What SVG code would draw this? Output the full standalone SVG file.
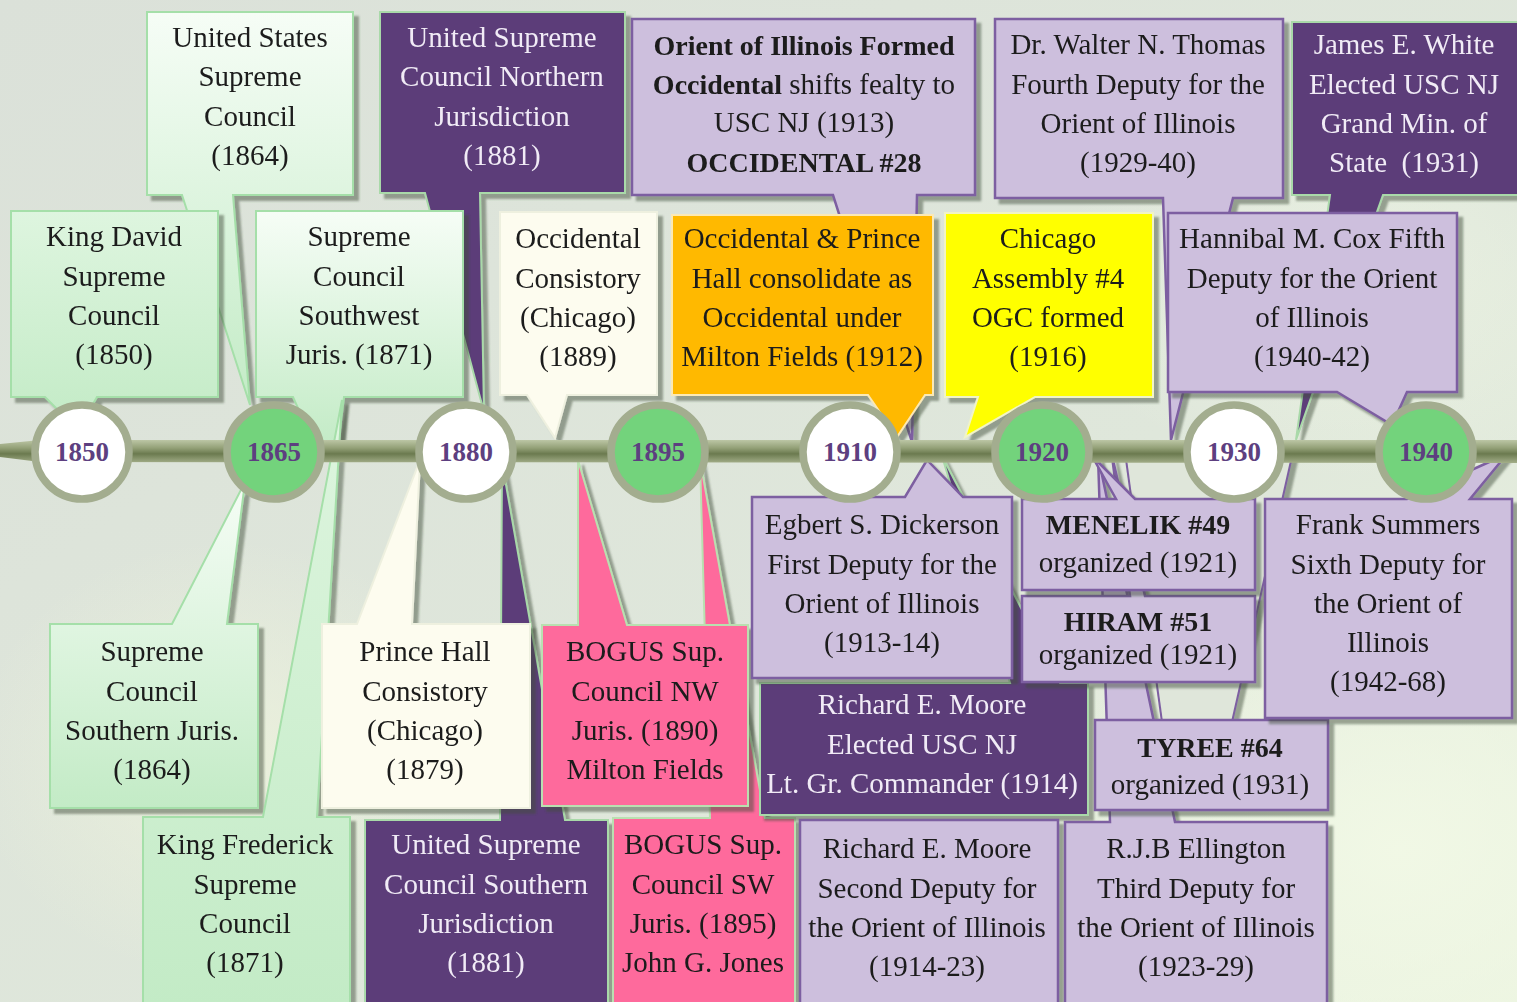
<svg xmlns="http://www.w3.org/2000/svg" width="1517" height="1002" viewBox="0 0 1517 1002">
<defs>
<linearGradient id="bg" x1="0" y1="0" x2="1" y2="1">
<stop offset="0" stop-color="#dbe1d9"/><stop offset="0.6" stop-color="#dfe7db"/><stop offset="1" stop-color="#eaf3df"/>
</linearGradient>
<radialGradient id="spot1" cx="0.5" cy="0.5" r="0.5"><stop offset="0" stop-color="#f2f9e6" stop-opacity="0.9"/><stop offset="1" stop-color="#f2f9e6" stop-opacity="0"/></radialGradient>
<radialGradient id="spot2" cx="0.5" cy="0.5" r="0.5"><stop offset="0" stop-color="#eef3dc" stop-opacity="0.8"/><stop offset="1" stop-color="#eef3dc" stop-opacity="0"/></radialGradient>
<linearGradient id="gG" x1="0" y1="0" x2="0" y2="1"><stop offset="0" stop-color="#f6fdf6"/><stop offset="1" stop-color="#c3ebc6"/></linearGradient>
<linearGradient id="gF" x1="0" y1="0" x2="0" y2="1"><stop offset="0" stop-color="#def5df"/><stop offset="1" stop-color="#c3ebc6"/></linearGradient>
<linearGradient id="bar" x1="0" y1="0" x2="0" y2="1"><stop offset="0" stop-color="#bcc6a5"/><stop offset="0.35" stop-color="#93a077"/><stop offset="0.6" stop-color="#6b7a4f"/><stop offset="1" stop-color="#a3ae89"/></linearGradient>
<filter id="sh" x="-10%" y="-10%" width="125%" height="125%"><feDropShadow dx="5" dy="5" stdDeviation="1.2" flood-color="#3e4d38" flood-opacity="0.48"/></filter>
<style>
.cg{filter:url(#sh)}
.lg{fill:url(#gG);stroke:#a5dfa9;stroke-width:2}
.lf{fill:url(#gF);stroke:#a5dfa9;stroke-width:2}
.lp{fill:#cdbfdd;stroke:#7d5ea1;stroke-width:2.5}
.dp{fill:#5b3e79;stroke:#a9d9a9;stroke-width:2}
.pk{fill:#fe6a9c;stroke:#b9e0b0;stroke-width:2}
.cr{fill:#fdfcef;stroke:#eef0df;stroke-width:2}
.or{fill:#ffb900;stroke:#fbe9b5;stroke-width:2}
.ye{fill:#ffff00;stroke:#f1f4c6;stroke-width:2}
.pale{fill:#dfe6da;stroke:none}
.edge{fill:none;stroke:#7d5ea1;stroke-width:2}
.t{font-family:"Liberation Serif","Times New Roman",serif;font-size:29px;text-anchor:middle;fill:#1b1b1b}
.w{fill:#f1ebf6}
.b{font-weight:bold;font-size:28px}
.yc{stroke:#a3ad8f;stroke-width:7.5}
.yw{fill:#ffffff}
.yg{fill:#73d37c}
.yr{font-family:"Liberation Serif","Times New Roman",serif;font-size:27px;font-weight:bold;fill:#5d3f80;text-anchor:middle}
</style>
</defs>
<rect width="1517" height="1002" fill="url(#bg)"/>
<ellipse cx="1400" cy="850" rx="420" ry="330" fill="url(#spot1)"/>
<ellipse cx="230" cy="760" rx="260" ry="220" fill="url(#spot2)"/>
<ellipse cx="1350" cy="280" rx="300" ry="200" fill="url(#spot1)" opacity="0.6"/>

<g id="n-us-sc" class="cg"><path class="lg" d="M147 12 H353 V195 H233 L250 405 L182 195 H147 Z"/>
<text class="t"><tspan x="250" y="47">United States</tspan><tspan x="250" y="86">Supreme</tspan><tspan x="250" y="126">Council</tspan><tspan x="250" y="165">(1864)</tspan></text></g>

<g id="n-usc-nj" class="cg"><path class="dp" d="M380 12 H625 V193 H480 L484 412 L425 193 H380 Z"/>
<text class="t w"><tspan x="502" y="47">United Supreme</tspan><tspan x="502" y="86">Council Northern</tspan><tspan x="502" y="126">Jurisdiction</tspan><tspan x="502" y="165">(1881)</tspan></text></g>

<g id="n-orient" class="cg"><path class="lp" d="M632 19 H975 V195 H917 L912 442 L833 195 H632 Z"/>
<text class="t"><tspan x="804" y="55" class="b">Orient of Illinois Formed</tspan><tspan x="804" y="94"><tspan class="b">Occidental</tspan> shifts fealty to</tspan><tspan x="804" y="132">USC NJ (1913)</tspan><tspan x="804" y="172" class="b">OCCIDENTAL #28</tspan></text></g>

<g id="n-thomas" class="cg"><path class="lp" d="M995 19 H1283 V198 H1233 L1171 440 L1163 198 H995 Z"/>
<text class="t"><tspan x="1138" y="54">Dr. Walter N. Thomas</tspan><tspan x="1138" y="94">Fourth Deputy for the</tspan><tspan x="1138" y="133">Orient of Illinois</tspan><tspan x="1138" y="172">(1929-40)</tspan></text></g>

<g id="n-white" class="cg"><path class="dp" d="M1292 22 H1522 V195 H1383 L1296 440 L1330 195 H1292 Z"/>
<text class="t w"><tspan x="1404" y="54">James E. White</tspan><tspan x="1404" y="94">Elected USC NJ</tspan><tspan x="1404" y="133">Grand Min. of</tspan><tspan x="1404" y="172" style="white-space:pre">State  (1931)</tspan></text></g>

<g id="n-king-david" class="cg"><path class="lf" d="M11 211 H218 V397 H97 L78 430 L45 397 H11 Z"/>
<text class="t"><tspan x="114" y="246">King David</tspan><tspan x="114" y="286">Supreme</tspan><tspan x="114" y="325">Council</tspan><tspan x="114" y="364">(1850)</tspan></text></g>

<g id="n-sc-sw" class="cg"><path class="lg" d="M256 211 H463 V397 H344 L338 446 L315 446 L293 397 H256 Z"/>
<text class="t"><tspan x="359" y="246">Supreme</tspan><tspan x="359" y="286">Council</tspan><tspan x="359" y="325">Southwest</tspan><tspan x="359" y="364">Juris. (1871)</tspan></text></g>

<g id="n-occ-cons" class="cg"><path class="cr" d="M500 212 H657 V395 H567 L555 438 L527 395 H500 Z"/>
<text class="t"><tspan x="578" y="248">Occidental</tspan><tspan x="578" y="288">Consistory</tspan><tspan x="578" y="327">(Chicago)</tspan><tspan x="578" y="366">(1889)</tspan></text></g>

<g id="n-consolidate" class="cg"><path class="or" d="M672 215 H933 V395 H925 L897 437 L868 395 H672 Z"/>
<text class="t"><tspan x="802" y="248">Occidental &amp; Prince</tspan><tspan x="802" y="288">Hall consolidate as</tspan><tspan x="802" y="327">Occidental under</tspan><tspan x="802" y="366">Milton Fields (1912)</tspan></text></g>

<g id="n-chicago" class="cg"><path class="ye" d="M945 213 H1153 V397 H1035 L965 437 L978 397 H945 Z"/>
<text class="t"><tspan x="1048" y="248">Chicago</tspan><tspan x="1048" y="288">Assembly #4</tspan><tspan x="1048" y="327">OGC formed</tspan><tspan x="1048" y="366">(1916)</tspan></text></g>

<g id="n-cox" class="cg"><path class="lp" d="M1168 213 H1457 V392 H1407 L1392 425 L1337 392 H1168 Z"/>
<text class="t"><tspan x="1312" y="248">Hannibal M. Cox Fifth</tspan><tspan x="1312" y="288">Deputy for the Orient</tspan><tspan x="1312" y="327">of Illinois</tspan><tspan x="1312" y="366">(1940-42)</tspan></text></g>

<g id="n-sc-sj" class="cg"><path class="lg" d="M50 624 H172 L245 482 L227 624 H258 V808 H50 Z"/>
<text class="t"><tspan x="152" y="661">Supreme</tspan><tspan x="152" y="701">Council</tspan><tspan x="152" y="740">Southern Juris.</tspan><tspan x="152" y="779">(1864)</tspan></text></g>

<g id="n-king-frederick" class="cg"><path class="lf" d="M143 817 H263 L342 400 L317 817 H350 V1004 H143 Z"/>
<text class="t"><tspan x="245" y="854">King Frederick</tspan><tspan x="245" y="894">Supreme</tspan><tspan x="245" y="933">Council</tspan><tspan x="245" y="972">(1871)</tspan></text></g>

<g id="n-usc-sj" class="cg"><path class="dp" d="M365 820 H500 L502 462 L565 820 H608 V1004 H365 Z"/>
<text class="t w"><tspan x="486" y="854">United Supreme</tspan><tspan x="486" y="894">Council Southern</tspan><tspan x="486" y="933">Jurisdiction</tspan><tspan x="486" y="972">(1881)</tspan></text></g>

<g id="n-prince-hall" class="cg"><path class="cr" d="M322 624 H357 L420 460 L412 624 H530 V808 H322 Z"/>
<text class="t"><tspan x="425" y="661">Prince Hall</tspan><tspan x="425" y="701">Consistory</tspan><tspan x="425" y="740">(Chicago)</tspan><tspan x="425" y="779">(1879)</tspan></text></g>

<g id="n-bogus-sw" class="cg"><path class="pk" d="M613 818 H710 L700 460 L765 818 H795 V1004 H613 Z"/>
<text class="t"><tspan x="703" y="854">BOGUS Sup.</tspan><tspan x="703" y="894">Council SW</tspan><tspan x="703" y="933">Juris. (1895)</tspan><tspan x="703" y="972">John G. Jones</tspan></text></g>

<g id="n-bogus-nw" class="cg"><path class="pk" d="M542 625 H578 L578 460 L627 625 H748 V806 H542 Z"/>
<text class="t"><tspan x="645" y="661">BOGUS Sup.</tspan><tspan x="645" y="701">Council NW</tspan><tspan x="645" y="740">Juris. (1890)</tspan><tspan x="645" y="779">Milton Fields</tspan></text></g>

<g id="n-moore-lt" class="cg"><path class="dp" d="M760 683 H1010 L942 456 L1060 683 H1088 V815 H760 Z"/>
<text class="t w"><tspan x="922" y="714">Richard E. Moore</tspan><tspan x="922" y="754">Elected USC NJ</tspan><tspan x="922" y="793">Lt. Gr. Commander (1914)</tspan></text></g>

<g id="n-dickerson" class="cg"><path class="lp" d="M752 497 H905 L927 460 L963 497 H1012 V678 H752 Z"/>
<text class="t"><tspan x="882" y="534">Egbert S. Dickerson</tspan><tspan x="882" y="574">First Deputy for the</tspan><tspan x="882" y="613">Orient of Illinois</tspan><tspan x="882" y="652">(1913-14)</tspan></text></g>

<g id="n-moore-2nd" class="cg"><path class="lp" d="M800 820 H1058 V1004 H800 Z"/>
<text class="t"><tspan x="927" y="858">Richard E. Moore</tspan><tspan x="927" y="898">Second Deputy for</tspan><tspan x="927" y="937">the Orient of Illinois</tspan><tspan x="927" y="976">(1914-23)</tspan></text></g>

<g id="n-ellington" class="cg"><path class="lp" d="M1065 822 H1110 L1098 456 L1175 822 H1327 V1004 H1065 Z"/>
<text class="t"><tspan x="1196" y="858">R.J.B Ellington</tspan><tspan x="1196" y="898">Third Deputy for</tspan><tspan x="1196" y="937">the Orient of Illinois</tspan><tspan x="1196" y="976">(1923-29)</tspan></text></g>

<g id="n-tyree" class="cg"><polygon class="pale" points="1162,722 1125,452 1293,452 1232,722"/><polyline class="edge" points="1162,722 1125,452"/><polyline class="edge" points="1232,722 1293,452"/><path class="lp" d="M1095 720 H1328 V810 H1095 Z"/>
<text class="t"><tspan x="1210" y="757" class="b">TYREE #64</tspan><tspan x="1210" y="794">organized (1931)</tspan></text></g>

<g id="n-hiram" class="cg"><path class="lp" d="M1022 596 H1130 L1112 456 L1145 596 H1255 V682 H1022 Z"/>
<text class="t"><tspan x="1138" y="631" class="b">HIRAM #51</tspan><tspan x="1138" y="664">organized (1921)</tspan></text></g>

<g id="n-menelik" class="cg"><path class="lp" d="M1022 499 H1116 L1092 456 L1135 499 H1255 V590 H1022 Z"/>
<text class="t"><tspan x="1138" y="534" class="b">MENELIK #49</tspan><tspan x="1138" y="572">organized (1921)</tspan></text></g>

<g id="n-summers" class="cg"><path class="lp" d="M1265 499 H1407 L1507 454 L1470 499 H1512 V718 H1265 Z"/>
<text class="t"><tspan x="1388" y="534">Frank Summers</tspan><tspan x="1388" y="574">Sixth Deputy for</tspan><tspan x="1388" y="613">the Orient of</tspan><tspan x="1388" y="652">Illinois</tspan><tspan x="1388" y="691">(1942-68)</tspan></text></g>

<g id="connectors">
<polygon points="0,444 40,440 1517,440 1517,463 40,462 0,457" fill="url(#bar)"/>
</g>

<g id="y1850"><circle class="yc yw" cx="82" cy="452" r="47"/><text class="yr" x="82" y="461">1850</text></g>
<g id="y1865"><circle class="yc yg" cx="274" cy="452" r="47"/><text class="yr" x="274" y="461">1865</text></g>
<g id="y1880"><circle class="yc yw" cx="466" cy="452" r="47"/><text class="yr" x="466" y="461">1880</text></g>
<g id="y1895"><circle class="yc yg" cx="658" cy="452" r="47"/><text class="yr" x="658" y="461">1895</text></g>
<g id="y1910"><circle class="yc yw" cx="850" cy="452" r="47"/><text class="yr" x="850" y="461">1910</text></g>
<g id="y1920"><circle class="yc yg" cx="1042" cy="452" r="47"/><text class="yr" x="1042" y="461">1920</text></g>
<g id="y1930"><circle class="yc yw" cx="1234" cy="452" r="47"/><text class="yr" x="1234" y="461">1930</text></g>
<g id="y1940"><circle class="yc yg" cx="1426" cy="452" r="47"/><text class="yr" x="1426" y="461">1940</text></g>
</svg>
